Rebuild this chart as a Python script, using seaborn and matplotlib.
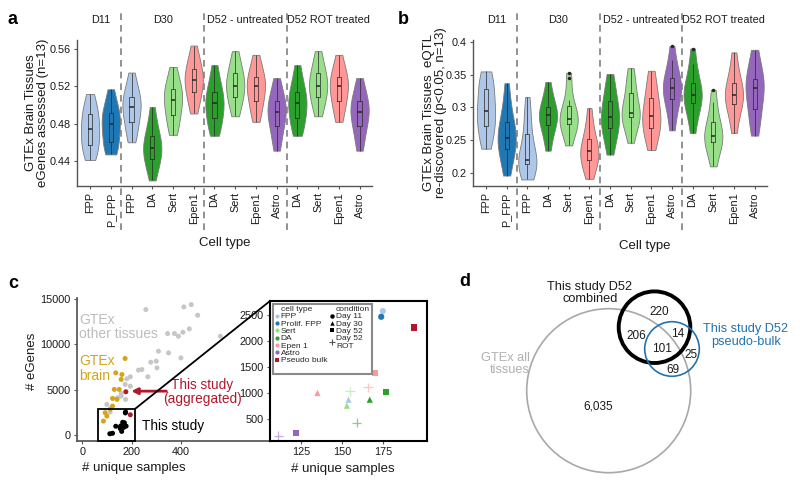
import numpy as np
import pandas as pd
import matplotlib
matplotlib.use("Agg")
import matplotlib.pyplot as plt
import matplotlib.transforms as mtransforms
from matplotlib.patches import Circle, Rectangle, ConnectionPatch
from matplotlib.lines import Line2D
import seaborn as sns

sns.set_theme(style="ticks")
plt.rcParams['font.family'] = ['Liberation Sans', 'DejaVu Sans']

# ---------------- data: panels a / b ----------------
cell_labels = ["FPP", "P_FPP", "FPP", "DA", "Sert", "Epen1",
               "DA", "Sert", "Epen1", "Astro", "DA", "Sert", "Epen1", "Astro"]
stage_names = ["D11", "D30", "D52 - untreated", "D52 ROT treated"]
stage_of_slot = [0, 0, 1, 1, 1, 1, 2, 2, 2, 2, 3, 3, 3, 3]
cell_colors = {"FPP": "#aec7e8", "P_FPP": "#1f77b4", "DA": "#2ca02c",
               "Sert": "#98df8a", "Epen1": "#ff9896", "Astro": "#9467bd"}

# fraction of GTEx brain eGenes assessed, 13 brain tissues per cell type
egenes_assessed = [
    [0.441, 0.448, 0.453, 0.457, 0.463, 0.469, 0.474, 0.479, 0.485, 0.490, 0.495, 0.502, 0.512],
    [0.447, 0.452, 0.456, 0.460, 0.468, 0.475, 0.480, 0.484, 0.488, 0.491, 0.497, 0.505, 0.517],
    [0.460, 0.468, 0.475, 0.482, 0.489, 0.494, 0.498, 0.502, 0.506, 0.509, 0.515, 0.523, 0.535],
    [0.419, 0.430, 0.437, 0.442, 0.447, 0.451, 0.454, 0.458, 0.463, 0.467, 0.474, 0.484, 0.498],
    [0.468, 0.476, 0.483, 0.489, 0.496, 0.502, 0.506, 0.510, 0.514, 0.517, 0.523, 0.531, 0.541],
    [0.491, 0.500, 0.507, 0.514, 0.519, 0.523, 0.527, 0.531, 0.535, 0.539, 0.545, 0.553, 0.564],
    [0.467, 0.474, 0.480, 0.486, 0.492, 0.498, 0.502, 0.506, 0.510, 0.514, 0.521, 0.531, 0.543],
    [0.488, 0.496, 0.503, 0.509, 0.514, 0.518, 0.521, 0.525, 0.530, 0.534, 0.540, 0.548, 0.558],
    [0.482, 0.491, 0.498, 0.504, 0.510, 0.516, 0.520, 0.523, 0.527, 0.530, 0.536, 0.544, 0.554],
    [0.451, 0.461, 0.470, 0.478, 0.484, 0.489, 0.493, 0.496, 0.500, 0.504, 0.510, 0.518, 0.529],
    [0.467, 0.474, 0.480, 0.486, 0.492, 0.498, 0.502, 0.506, 0.510, 0.514, 0.521, 0.531, 0.543],
    [0.488, 0.496, 0.503, 0.509, 0.514, 0.518, 0.521, 0.525, 0.530, 0.534, 0.540, 0.548, 0.558],
    [0.482, 0.491, 0.498, 0.504, 0.510, 0.516, 0.520, 0.523, 0.527, 0.530, 0.536, 0.544, 0.554],
    [0.451, 0.461, 0.470, 0.478, 0.484, 0.489, 0.493, 0.496, 0.500, 0.504, 0.510, 0.518, 0.529],
]

# fraction of GTEx brain eQTL re-discovered (p<0.05)
eqtl_rediscovered = [
    [0.237, 0.248, 0.260, 0.272, 0.280, 0.287, 0.294, 0.303, 0.316, 0.328, 0.337, 0.346, 0.355],
    [0.196, 0.212, 0.226, 0.237, 0.244, 0.249, 0.254, 0.260, 0.269, 0.278, 0.290, 0.310, 0.337],
    [0.190, 0.200, 0.208, 0.214, 0.216, 0.218, 0.220, 0.226, 0.240, 0.259, 0.275, 0.293, 0.316],
    [0.234, 0.250, 0.263, 0.273, 0.278, 0.283, 0.288, 0.291, 0.295, 0.300, 0.310, 0.322, 0.339],
    [0.242, 0.258, 0.268, 0.275, 0.278, 0.280, 0.282, 0.286, 0.294, 0.302, 0.312, 0.345, 0.353],
    [0.191, 0.203, 0.212, 0.219, 0.224, 0.229, 0.233, 0.237, 0.244, 0.252, 0.262, 0.278, 0.299],
    [0.228, 0.245, 0.258, 0.268, 0.274, 0.280, 0.286, 0.292, 0.301, 0.310, 0.322, 0.336, 0.351],
    [0.246, 0.263, 0.276, 0.285, 0.287, 0.289, 0.291, 0.296, 0.308, 0.322, 0.333, 0.345, 0.360],
    [0.235, 0.250, 0.261, 0.269, 0.275, 0.281, 0.287, 0.294, 0.304, 0.315, 0.326, 0.340, 0.356],
    [0.265, 0.283, 0.300, 0.313, 0.318, 0.324, 0.329, 0.334, 0.340, 0.345, 0.355, 0.372, 0.394],
    [0.261, 0.279, 0.296, 0.307, 0.311, 0.315, 0.319, 0.324, 0.331, 0.338, 0.350, 0.367, 0.390],
    [0.210, 0.225, 0.238, 0.247, 0.250, 0.253, 0.257, 0.262, 0.270, 0.277, 0.290, 0.309, 0.327],
    [0.261, 0.279, 0.294, 0.305, 0.310, 0.315, 0.319, 0.324, 0.330, 0.337, 0.347, 0.364, 0.384],
    [0.257, 0.272, 0.286, 0.297, 0.310, 0.321, 0.330, 0.335, 0.340, 0.344, 0.356, 0.372, 0.388],
]

# ---------------- data: panel c ----------------
gtex_other_samples = [257, 411, 441, 467, 433, 407, 373, 345, 389, 559, 308, 349, 399, 299, 277,
                      302, 241, 227, 265, 194, 180, 173, 194, 157, 157, 175, 142, 112, 99]
gtex_other_egenes = [13830, 14120, 14370, 13200, 11710, 11340, 11190, 11190, 10900, 10900, 9250,
                     9070, 8520, 8150, 8040, 7420, 7240, 7170, 6440, 6440, 6220, 5600, 5410, 4610,
                     4310, 3950, 4130, 2560, 3400]
gtex_brain_samples = [173, 135, 160, 157, 129, 149, 122, 140, 122, 92, 99, 85, 113]
gtex_brain_egenes = [8450, 6870, 6690, 6150, 5050, 5050, 4060, 3950, 3220, 2490, 2120, 1570, 2900]
aggregated_samples = [176]
aggregated_egenes = [4790]

study_cell = ["FPP", "Prolif. FPP", "Pseudo bulk", "Sert", "Epen 1", "DA", "Astro",
              "Epen 1", "FPP", "Sert", "DA", "Sert", "Epen 1", "DA", "Astro"]
study_condition = ["Day 11", "Day 11", "Day 52", "Day 52", "Day 52", "Day 52", "Day 52",
                   "Day 30", "Day 30", "Day 30", "Day 30",
                   "Day 52 ROT", "Day 52 ROT", "Day 52 ROT", "Day 52 ROT"]
study_samples = [175, 174, 194, 163, 170, 177, 122, 135, 154, 153, 167, 155, 166, 159, 111]
study_egenes = [2577, 2467, 2262, 1435, 1390, 1016, 228, 1003, 874, 758, 874, 1035, 1112, 434, 177]

inset_colors = {"FPP": "#aec7e8", "Prolif. FPP": "#1f77b4", "Sert": "#98df8a", "DA": "#2ca02c",
                "Epen 1": "#ff9896", "Astro": "#9467bd", "Pseudo bulk": "#b2182b"}
condition_markers = {"Day 11": "o", "Day 30": "^", "Day 52": "s"}

# ---------------- data: panel d ----------------
venn_counts = [220, 206, 14, 101, 25, 69, 6035]

RED = "#b2182b"
GOLD = "#d4a41c"
LGRAY = "#bdbdbd"
TXT = "#1a1a1a"
TICK_FS = 7.8


def px_rect(x0, y0, x1, y1):
    # pixel box (origin top-left) -> figure fraction rect
    return [x0 / 800, 1 - y1 / 488, (x1 - x0) / 800, (y1 - y0) / 488]


def violin_panel(ax, values, ylim, yticks, ylabel, ylab_x, xlab_x, xlab_y):
    slots = [f"s{i}" for i in range(len(values))]
    df = pd.DataFrame({
        "slot": np.repeat(slots, [len(v) for v in values]),
        "value": np.concatenate(values),
    })
    pal = [cell_colors[c] for c in cell_labels]
    sns.violinplot(data=df, x="slot", y="value", hue="slot", order=slots, hue_order=slots,
                   palette=pal, legend=False, dodge=False, cut=0, inner=None,
                   density_norm="width", width=0.88, bw_method="silverman",
                   linewidth=0.6, linecolor="#7a7a7a", saturation=1, ax=ax)
    sns.boxplot(data=df, x="slot", y="value", order=slots, width=0.2, fill=False,
                color="#262626", linewidth=0.5, showcaps=False, ax=ax,
                medianprops=dict(linewidth=1.1),
                flierprops=dict(marker="o", markerfacecolor="#262626",
                                markeredgecolor="#262626", markersize=1.5))
    ax.set_xlim(-0.63, len(values) - 0.4)
    ax.set_ylim(*ylim)
    ax.set_yticks(yticks)
    ax.set_yticklabels([f"{t:g}" for t in yticks])
    ax.set_xticks(range(len(values)))
    ax.set_xticklabels(cell_labels, rotation=90)
    ax.tick_params(labelsize=TICK_FS, length=2.5, width=0.8, color="#555555",
                   labelcolor=TXT, pad=2)
    sns.despine(ax=ax)
    for sp in ["left", "bottom"]:
        ax.spines[sp].set_color("#555555")
        ax.spines[sp].set_linewidth(1.0)
    ax.set_xlabel("Cell type", fontsize=9.5, color=TXT)
    ax.xaxis.set_label_coords(xlab_x, xlab_y)
    ax.set_ylabel(ylabel, fontsize=9.5, color=TXT, linespacing=1.05)
    ax.yaxis.set_label_coords(ylab_x, 0.5)
    # stage separators and stage names
    trans = mtransforms.blended_transform_factory(ax.transData, ax.transAxes)
    bounds = [i - 0.5 for i in range(1, len(values)) if stage_of_slot[i] != stage_of_slot[i - 1]]
    for b in bounds:
        ax.axvline(b, ymin=-0.30, ymax=1.21, clip_on=False, color="#7f7f7f",
                   ls=(0, (4, 3)), lw=1.2)
    for k, name in enumerate(stage_names):
        pos = [i for i, s in enumerate(stage_of_slot) if s == k]
        ax.text(np.mean(pos), 1.137, name, transform=trans, ha="center", va="center",
                fontsize=7.8, color=TXT)


fig = plt.figure(figsize=(8, 4.88), dpi=100)

# overlay axes in pixel units for panel d and panel letters
ov = fig.add_axes([0, 0, 1, 1])
ov.set_xlim(0, 800)
ov.set_ylim(488, 0)
ov.axis("off")
ov.patch.set_alpha(0)

# ---------------- panel a ----------------
ax_a = fig.add_axes(px_rect(77, 40, 372, 186))
violin_panel(ax_a, egenes_assessed, (0.413, 0.570), [0.44, 0.48, 0.52, 0.56],
             "GTEx Brain Tissues\neGenes assessed (n=13)", -0.095, 0.5, -0.35)

# ---------------- panel b ----------------
ax_b = fig.add_axes(px_rect(473, 40, 767, 186))
violin_panel(ax_b, eqtl_rediscovered, (0.18, 0.403), [0.2, 0.25, 0.3, 0.35, 0.4],
             "GTEx Brain Tissues  eQTL\nre-discovered (p<0.05, n=13)", -0.087, 0.585, -0.37)

# ---------------- panel c (main) ----------------
ax_c = fig.add_axes(px_rect(77, 298, 270, 441))
groups = (["other"] * len(gtex_other_samples) + ["brain"] * len(gtex_brain_samples)
          + ["study" if c != "Pseudo bulk" else "bulk" for c in study_cell] + ["agg"])
main_df = pd.DataFrame({
    "samples": gtex_other_samples + gtex_brain_samples + study_samples + aggregated_samples,
    "egenes": gtex_other_egenes + gtex_brain_egenes + study_egenes + aggregated_egenes,
    "group": groups,
})
sns.scatterplot(data=main_df, x="samples", y="egenes", hue="group",
                palette={"other": "#c6c6c6", "brain": GOLD, "study": "black",
                         "bulk": RED, "agg": RED},
                s=13, linewidth=0, legend=False, ax=ax_c)
ax_c.set_xlim(-22, 760)
ax_c.set_ylim(-620, 15100)
ax_c.set_xticks([0, 200, 400])
ax_c.set_yticks([0, 5000, 10000, 15000])
ax_c.tick_params(labelsize=TICK_FS, length=2.5, width=0.8, color="#555555",
                 labelcolor=TXT, pad=2)
sns.despine(ax=ax_c)
for sp in ["left", "bottom"]:
    ax_c.spines[sp].set_color("#555555")
ax_c.set_xlabel("# unique samples", fontsize=9.5, color=TXT)
ax_c.xaxis.set_label_coords(0.295, -0.15)
ax_c.set_ylabel("# eGenes", fontsize=9.5, color=TXT)
ax_c.yaxis.set_label_coords(-0.2, 0.56)

zoom_x = (65, 214)
zoom_top = 2930
ax_c.add_patch(Rectangle((zoom_x[0], -620), zoom_x[1] - zoom_x[0], zoom_top + 620,
                         fill=False, lw=1.3, ec="black", clip_on=False, zorder=4))
ax_c.text(-13, 11900, "GTEx\nother tissues", color=LGRAY, fontsize=10, va="center",
          ha="left", linespacing=1.0)
ax_c.text(-13, 7370, "GTEx\nbrain", color=GOLD, fontsize=10, va="center", ha="left",
          linespacing=1.05)
ax_c.text(486, 4760, "This study\n(aggregated)", color=RED, fontsize=9.8, va="center",
          ha="center", linespacing=1.05)
ax_c.annotate("", xy=(198, 4860), xytext=(340, 4860),
              arrowprops=dict(arrowstyle="-|>", color=RED, lw=2.0, mutation_scale=9,
                              shrinkA=0, shrinkB=0))
ax_c.text(241, 1000, "This study", color="black", fontsize=9.8, va="center", ha="left")

# ---------------- panel c (inset) ----------------
ax_in = fig.add_axes(px_rect(270, 301, 427, 441))
study_df = pd.DataFrame({"samples": study_samples, "egenes": study_egenes,
                         "cell": study_cell, "condition": study_condition})
filled = study_df[study_df["condition"] != "Day 52 ROT"]
rot = study_df[study_df["condition"] == "Day 52 ROT"]
sns.scatterplot(data=filled, x="samples", y="egenes", hue="cell", style="condition",
                palette=inset_colors, markers=condition_markers, s=20, linewidth=0,
                legend=False, ax=ax_in)
ax_in.scatter(rot["samples"], rot["egenes"], marker="+", s=45, linewidths=0.9,
              c=[inset_colors[c] for c in rot["cell"]], alpha=0.55)
ax_in.set_xlim(106, 202)
ax_in.set_ylim(80, 2770)
ax_in.set_xticks([125, 150, 175])
ax_in.set_yticks([500, 1000, 1500, 2000, 2500])
ax_in.tick_params(labelsize=TICK_FS, length=2.5, width=0.8, color="#555555",
                  labelcolor=TXT, pad=2)
for sp in ax_in.spines.values():
    sp.set_color("black")
    sp.set_linewidth(1.5)
ax_in.set_xlabel("# unique samples", fontsize=9.5, color=TXT)
ax_in.xaxis.set_label_coords(0.465, -0.155)
ax_in.set_ylabel("")

con = ConnectionPatch(xyA=(zoom_x[1], zoom_top), coordsA=ax_c.transData,
                      xyB=(0, 1), coordsB=ax_in.transAxes, color="black", lw=1.3)
fig.add_artist(con)

handles = [Line2D([], [], ls="none", label="cell type")]
for name, col in inset_colors.items():
    mk = "s" if name == "Pseudo bulk" else "o"
    handles.append(Line2D([], [], ls="none", marker=mk, markersize=3, color=col,
                          markeredgewidth=0, label=name))
handles.append(Line2D([], [], ls="none", label="condition"))
for cond, mk in condition_markers.items():
    handles.append(Line2D([], [], ls="none", marker=mk, markersize=3.2, color="black",
                          markeredgewidth=0, label=cond))
handles.append(Line2D([], [], ls="none", marker="+", markersize=5, color="#555555",
                      markeredgewidth=0.8, label="Day 52\nROT"))
handles += [Line2D([], [], ls="none", label="")] * 3
leg = ax_in.legend(handles=handles, ncol=2, loc="upper left", fontsize=6.0, frameon=True,
                   fancybox=False, edgecolor="#8a8a8a", framealpha=1, borderpad=0.25,
                   labelspacing=0.0, handletextpad=0.15, columnspacing=0.3,
                   handlelength=0.6, handleheight=0.5, borderaxespad=0.3)
leg.get_frame().set_linewidth(1.5)

# ---------------- panel d (Venn) ----------------
ov.add_patch(Circle((608.7, 390.7), 82, fill=False, ec="#a8a8a8", lw=1.2))
ov.add_patch(Circle((654.5, 327.2), 35.8, fill=False, ec="black", lw=2.8))
ov.add_patch(Circle((672, 349), 27.3, fill=False, ec="#2372b0", lw=1.2))
count_pos = [(659, 311.7), (636, 336), (677.3, 334.3), (662.3, 349.3),
             (691, 355), (673.3, 370), (598.3, 406.7)]
for n, (x, y) in zip(venn_counts, count_pos):
    ov.text(x, y, f"{n:,}", ha="center", va="center", fontsize=8.5, color=TXT)
ov.text(590, 293, "This study D52\ncombined", ha="center", va="center", fontsize=9.2,
        color=TXT, linespacing=1.05)
ov.text(746, 335.5, "This study D52\npseudo-bulk", ha="center", va="center", fontsize=9.2,
        color="#2372b0", linespacing=1.05)
ov.text(530, 364, "GTEx all\ntissues", ha="right", va="center", fontsize=9.2,
        color="#b0b0b0", linespacing=1.05)

# panel letters
for letter, (x, y) in zip("abcd", [(13, 20), (403, 20), (13, 284), (465, 282)]):
    ov.text(x, y, letter, ha="center", va="center", fontsize=13, fontweight="bold",
            color="black")

fig.savefig("out.png", dpi=100)
